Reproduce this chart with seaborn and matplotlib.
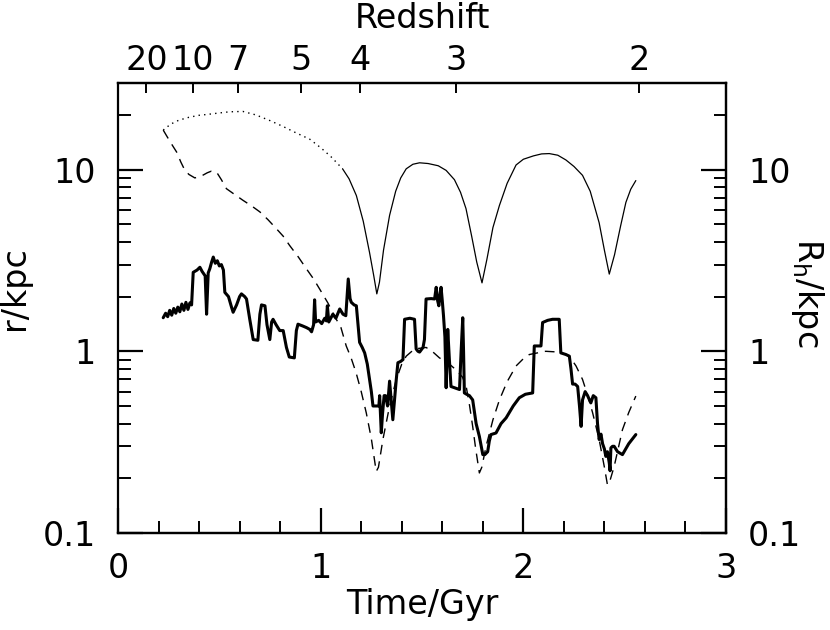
import numpy as np
import pandas as pd
import matplotlib
matplotlib.use('Agg')
import matplotlib.pyplot as plt
from matplotlib.ticker import LogLocator, NullFormatter, NullLocator
import seaborn as sns

# orbital radius of the satellite (dotted part, then thin solid part)
t_orbit_early = [0.223, 0.26, 0.30, 0.35, 0.40, 0.437, 0.50, 0.55, 0.616, 0.68,
                 0.75, 0.813, 0.88, 0.946, 1.00, 1.05, 1.108]
r_orbit_early = [16.5, 17.8, 18.7, 19.4, 19.9, 20.1, 20.5, 20.8, 20.9, 20.0,
                 18.6, 17.3, 15.9, 14.7, 13.2, 11.8, 10.1]

t_orbit = [1.108, 1.14, 1.176, 1.21, 1.241, 1.262, 1.277, 1.29, 1.31, 1.34, 1.37,
           1.395, 1.422, 1.455, 1.488, 1.53, 1.58, 1.619, 1.66, 1.69, 1.717, 1.745,
           1.77, 1.796, 1.82, 1.85, 1.882, 1.92, 1.964, 2.00, 2.05, 2.09, 2.128,
           2.17, 2.21, 2.25, 2.292, 2.33, 2.374, 2.40, 2.424, 2.45, 2.48, 2.506,
           2.53, 2.555]
r_orbit = [10.1, 8.9, 7.2, 5.2, 3.5, 2.6, 2.07, 2.4, 3.6, 5.6, 7.6,
           9.0, 10.1, 10.7, 10.9, 10.8, 10.5, 9.9, 8.8, 7.5, 6.1, 4.3,
           3.1, 2.38, 3.2, 4.8, 6.35, 8.4, 10.6, 11.4, 11.9, 12.2, 12.25,
           12.0, 11.3, 10.4, 9.3, 7.6, 5.1, 3.6, 2.66, 3.4, 4.9, 6.6,
           7.8, 8.7]

# dashed curve
t_dash = [0.223, 0.245, 0.270, 0.289, 0.31, 0.33, 0.35, 0.379, 0.41, 0.44, 0.46,
          0.486, 0.51, 0.535, 0.575, 0.617, 0.66, 0.70, 0.74, 0.782, 0.815, 0.847,
          0.89, 0.93, 0.965, 0.995, 1.035, 1.077, 1.10, 1.126, 1.15, 1.175, 1.20,
          1.225, 1.25, 1.274, 1.285, 1.307, 1.34, 1.373, 1.40, 1.422, 1.463, 1.52,
          1.55, 1.586, 1.63, 1.668, 1.70, 1.718, 1.735, 1.75, 1.765, 1.783, 1.795,
          1.816, 1.85, 1.882, 1.92, 1.964, 2.00, 2.03, 2.07, 2.11, 2.177, 2.227,
          2.26, 2.292, 2.32, 2.342, 2.374, 2.40, 2.415, 2.425, 2.448, 2.489, 2.52,
          2.555]
r_dash = [16.5, 15.0, 13.5, 12.5, 11.0, 9.9, 9.4, 9.0, 9.2, 9.6, 9.8,
          9.7, 8.8, 7.85, 7.3, 6.77, 6.3, 5.85, 5.3, 4.72, 4.3, 3.82,
          3.3, 2.84, 2.5, 2.2, 1.85, 1.5, 1.35, 1.07, 0.92, 0.76, 0.60,
          0.458, 0.33, 0.218, 0.23, 0.327, 0.50, 0.70, 0.85, 0.94, 1.03, 1.05,
          1.0, 0.92, 0.86, 0.79, 0.72, 0.64, 0.50, 0.386, 0.29, 0.214, 0.23,
          0.30, 0.42, 0.54, 0.68, 0.83, 0.91, 0.96, 0.98, 1.0, 0.99, 0.94,
          0.83, 0.70, 0.56, 0.458, 0.327, 0.23, 0.184, 0.19, 0.232, 0.37, 0.46,
          0.567]

# thick solid curve
t_thick = [0.223, 0.235, 0.245, 0.255, 0.265, 0.275, 0.285, 0.295, 0.305, 0.315,
           0.325, 0.335, 0.345, 0.355, 0.363, 0.371, 0.390, 0.404, 0.415, 0.430,
           0.437, 0.445, 0.453, 0.462, 0.470, 0.480, 0.490, 0.500, 0.510, 0.520,
           0.527, 0.545, 0.560, 0.568, 0.585, 0.600, 0.609, 0.625, 0.634, 0.650,
           0.667, 0.690, 0.700, 0.708, 0.725, 0.735, 0.749, 0.758, 0.765, 0.780,
           0.798, 0.815, 0.831, 0.845, 0.870, 0.880, 0.888, 0.910, 0.930, 0.946,
           0.955, 0.965, 0.970, 0.975, 0.990, 1.005, 1.020, 1.028, 1.033, 1.040,
           1.060, 1.075, 1.094, 1.110, 1.124, 1.136, 1.145, 1.151, 1.165, 1.176,
           1.192, 1.205, 1.217, 1.230, 1.241, 1.250, 1.258, 1.270, 1.287, 1.291,
           1.295, 1.299, 1.305, 1.313, 1.320, 1.330, 1.340, 1.347, 1.356, 1.365,
           1.373, 1.381, 1.395, 1.406, 1.414, 1.440, 1.463, 1.471, 1.480, 1.488,
           1.505, 1.512, 1.520, 1.545, 1.562, 1.570, 1.577, 1.583, 1.590, 1.594,
           1.600, 1.606, 1.613, 1.619, 1.624, 1.627, 1.635, 1.643, 1.660, 1.685,
           1.693, 1.701, 1.705, 1.709, 1.720, 1.734, 1.750, 1.767, 1.783, 1.792,
           1.800, 1.810, 1.824, 1.832, 1.840, 1.865, 1.890, 1.915, 1.950, 1.980,
           2.010, 2.046, 2.054, 2.087, 2.095, 2.120, 2.144, 2.177, 2.185, 2.210,
           2.227, 2.235, 2.243, 2.255, 2.268, 2.277, 2.285, 2.292, 2.305, 2.317,
           2.333, 2.345, 2.358, 2.366, 2.374, 2.383, 2.391, 2.400, 2.407, 2.415,
           2.424, 2.428, 2.432, 2.440, 2.448, 2.465, 2.489, 2.520, 2.555]
r_thick = [1.53, 1.62, 1.55, 1.68, 1.58, 1.72, 1.62, 1.75, 1.65, 1.82,
           1.68, 1.86, 1.70, 1.85, 1.80, 2.72, 2.80, 2.90, 2.75, 2.60,
           1.60, 2.70, 2.85, 3.10, 3.30, 3.05, 3.15, 2.95, 3.00, 2.80,
           2.11, 2.00, 1.75, 1.64, 1.80, 2.00, 2.07, 2.00, 1.94, 1.50,
           1.16, 1.15, 1.60, 1.80, 1.78, 1.40, 1.16, 1.45, 1.50, 1.40,
           1.30, 1.30, 1.05, 0.93, 0.92, 1.30, 1.41, 1.38, 1.35, 1.32,
           1.28, 1.40, 1.92, 1.45, 1.48, 1.42, 1.52, 1.47, 1.78, 1.45,
           1.60, 1.52, 1.71, 1.60, 1.57, 2.50, 1.95, 1.86, 1.80, 1.78,
           1.12, 1.05, 0.98, 0.85, 0.70, 0.60, 0.50, 0.50, 0.50, 0.57,
           0.45, 0.356, 0.45, 0.57, 0.57, 0.50, 0.685, 0.55, 0.42, 0.55,
           0.70, 0.865, 0.88, 0.90, 1.50, 1.52, 1.50, 1.03, 1.00, 0.99,
           1.05, 1.16, 1.94, 1.95, 1.94, 2.25, 1.90, 1.78, 2.10, 2.25,
           1.90, 1.57, 1.20, 0.63, 1.00, 1.32, 0.90, 0.64, 0.63, 0.616,
           1.00, 1.53, 1.00, 0.59, 0.58, 0.57, 0.54, 0.40, 0.34, 0.30,
           0.27, 0.27, 0.28, 0.32, 0.348, 0.355, 0.40, 0.43, 0.50, 0.555,
           0.58, 0.59, 1.07, 1.07, 1.44, 1.48, 1.50, 1.50, 0.98, 0.96,
           0.94, 0.80, 0.66, 0.66, 0.64, 0.50, 0.386, 0.54, 0.60, 0.57,
           0.52, 0.57, 0.555, 0.40, 0.327, 0.35, 0.31, 0.29, 0.264, 0.28,
           0.243, 0.22, 0.294, 0.30, 0.30, 0.28, 0.27, 0.31, 0.348]

# redshift scale on the top axis (time positions)
z_labels = ['20', '10', '7', '5', '4', '3', '2']
z_times = [0.140, 0.369, 0.591, 0.904, 1.192, 1.670, 2.571]

sns.set_style('ticks')
plt.rcParams['font.family'] = ['DejaVu Sans']
plt.rcParams['mathtext.default'] = 'regular'
plt.rcParams['axes.linewidth'] = 1.6
for k in ['text.color', 'axes.labelcolor', 'axes.edgecolor', 'xtick.color', 'ytick.color']:
    plt.rcParams[k] = 'black'

fig = plt.figure(figsize=(8.3, 6.3), dpi=100)
ax = fig.add_axes([0.1422, 0.154, 0.7325, 0.7144])

sns.lineplot(x=t_orbit_early, y=r_orbit_early, ax=ax, color='black', lw=1.0,
             ls=(0, (1, 3)), sort=False, estimator=None)
sns.lineplot(x=t_orbit, y=r_orbit, ax=ax, color='black', lw=0.9,
             sort=False, estimator=None)
sns.lineplot(x=t_dash, y=r_dash, ax=ax, color='black', lw=1.0,
             ls=(0, (7, 5)), sort=False, estimator=None)
sns.lineplot(x=t_thick, y=r_thick, ax=ax, color='black', lw=2.2,
             sort=False, estimator=None)

ax.set_yscale('log')
ax.set_xlim(0, 3)
ax.set_ylim(0.1, 30)

ax.set_xticks([0, 1, 2, 3])
ax.set_xticklabels(['0', '1', '2', '3'])
ax.xaxis.set_minor_locator(NullLocator())
ax.set_yticks([0.1, 1, 10])
ax.set_yticklabels(['0.1', '1', '10'])
ax.yaxis.set_minor_locator(LogLocator(base=10, subs=np.arange(2, 10)))
ax.yaxis.set_minor_formatter(NullFormatter())

ax.tick_params(which='major', direction='in', length=18, width=1.6,
               labelsize=24, pad=14)
ax.tick_params(which='minor', direction='in', length=9, width=1.4)
ax.tick_params(axis='y', which='major', pad=16)
ax.tick_params(axis='x', which='both', top=False, labeltop=False)

ax.set_xlabel('Time/Gyr', fontsize=24, labelpad=2)
ax.set_ylabel('r/kpc', fontsize=24)
ax.yaxis.set_label_coords(-0.143, 0.545)

# small 0.2 Gyr ticks along the bottom edge only
minor_x = [v for v in np.round(np.arange(0.2, 3.0, 0.2), 1) if v % 1 != 0]
axb = ax.secondary_xaxis('bottom')
axb.set_xticks(minor_x, labels=[''] * len(minor_x))
axb.tick_params(which='major', direction='in', length=9, width=1.4)
axb.spines['bottom'].set_linewidth(1.6)

# right axis, same scale
ax2 = ax.secondary_yaxis('right')
ax2.set_yticks([0.1, 1, 10])
ax2.set_yticklabels(['0.1', '1', '10'])
ax2.yaxis.set_minor_locator(LogLocator(base=10, subs=np.arange(2, 10)))
ax2.yaxis.set_minor_formatter(NullFormatter())
ax2.tick_params(axis='y', which='major', direction='in', length=18, width=1.6,
                labelsize=24, pad=16)
ax2.tick_params(axis='y', which='minor', direction='in', length=9, width=1.4)
fig.text(807 / 830, 1 - 293 / 630, 'R$_h$/kpc', fontsize=24, rotation=270,
         ha='center', va='center')

# top redshift axis
ax3 = ax.secondary_xaxis('top')
ax3.set_xticks(z_times)
ax3.set_xticklabels(z_labels)
ax3.tick_params(axis='x', which='major', direction='in', length=7, width=1.4,
                labelsize=24, pad=4)
ax3.set_xlabel('Redshift', fontsize=24, labelpad=12)

for s in ax.spines.values():
    s.set_linewidth(1.6)
for a in (ax2, ax3):
    for s in a.spines.values():
        s.set_linewidth(1.6)

fig.savefig('out.png', dpi=100)
